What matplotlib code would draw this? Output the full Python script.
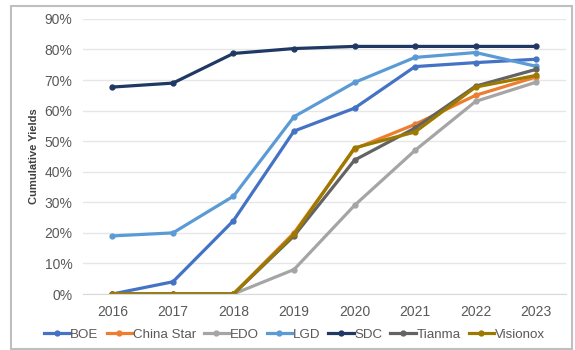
import matplotlib.pyplot as plt
from matplotlib.patches import Rectangle
from matplotlib.ticker import FuncFormatter

plt.rcParams['font.family'] = ['Liberation Sans', 'DejaVu Sans']

years = [2016, 2017, 2018, 2019, 2020, 2021, 2022, 2023]

boe = [0, 4, 24, 53.3, 60.8, 74.4, 75.7, 76.8]
china_star = [0, 0, 0, 20, 47.5, 55.5, 65, 71]
edo = [0, 0, 0, 8, 29, 47, 63, 69.3]
lgd = [19, 20, 32, 58, 69.2, 77.4, 79, 74.5]
sdc = [67.7, 69, 78.7, 80.3, 81, 81, 81, 81]
tianma = [0, 0, 0, 19, 43.8, 54.3, 68, 73.5]
visionox = [0, 0, 0, 19.5, 47.8, 53, 67.7, 71.5]

series = [
    ('BOE', boe, '#4472C4'),
    ('China Star', china_star, '#ED7D31'),
    ('EDO', edo, '#A5A5A5'),
    ('LGD', lgd, '#5B9BD5'),
    ('SDC', sdc, '#203864'),
    ('Tianma', tianma, '#636363'),
    ('Visionox', visionox, '#9C7A00'),
]

fig = plt.figure(figsize=(5.75, 3.5), dpi=100)
ax = fig.add_axes([0.145, 0.16, 0.84, 0.786])

for name, vals, col in series:
    ax.plot(years, vals, color=col, lw=2.3, marker='o', ms=3.5, label=name,
            solid_joinstyle='round')

ax.set_xlim(2015.52, 2023.5)
ax.set_ylim(0, 90)
ax.set_yticks(range(0, 91, 10))
ax.yaxis.set_major_formatter(FuncFormatter(lambda v, p: '%d%%' % v))
ax.set_xticks(years)
ax.grid(axis='y', color='#E6E6E6', lw=1)
ax.set_axisbelow(True)
for s in ['top', 'right', 'left']:
    ax.spines[s].set_visible(False)
ax.spines['bottom'].set_color('#D9D9D9')
ax.tick_params(axis='both', length=0, labelsize=10, labelcolor='#595959', pad=8)
ax.set_ylabel('Cumulative Yields', fontsize=8, fontweight='bold', color='#404040', labelpad=4)

ax.legend(loc='upper center', bbox_to_anchor=(0.437, -0.125), ncol=7, frameon=False,
          fontsize=9.6, handlelength=1.9, handletextpad=0.05, columnspacing=0.6,
          labelcolor='#595959', borderaxespad=0, borderpad=0)

fig.patches.append(Rectangle((11 / 575, 1 / 350), 561 / 575, 343 / 350,
                             transform=fig.transFigure, fill=False,
                             edgecolor='#BFBFBF', lw=1.5))

fig.savefig('out.png', dpi=100)
